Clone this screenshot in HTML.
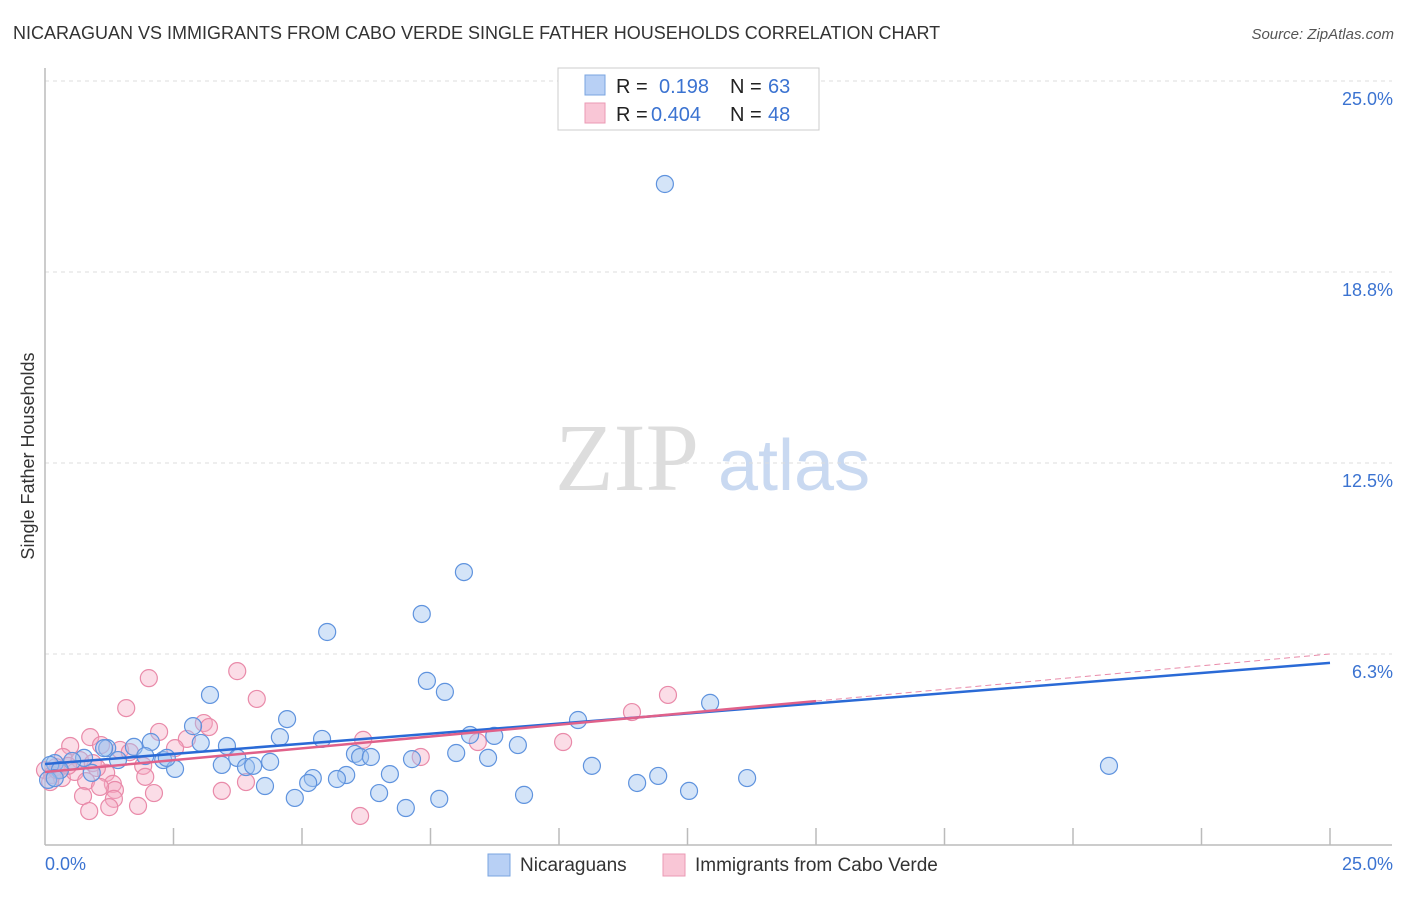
<!DOCTYPE html>
<html><head><meta charset="utf-8"><style>
body{margin:0;background:#fff;font-family:"Liberation Sans",sans-serif}
</style></head><body>
<svg id="chart" width="1406" height="892" xmlns="http://www.w3.org/2000/svg" font-family="Liberation Sans, sans-serif">
<text x="13" y="39" font-size="18" fill="#333">NICARAGUAN VS IMMIGRANTS FROM CABO VERDE SINGLE FATHER HOUSEHOLDS CORRELATION CHART</text>
<text x="1394" y="39" font-size="15" fill="#555" text-anchor="end" font-style="italic">Source: ZipAtlas.com</text>
<g>
<text x="555" y="490" font-size="96" font-family="Liberation Serif, serif" fill="#ddd">ZIP</text>
<text x="718" y="490" font-size="72" fill="#c9d9f1">atlas</text>
</g>
<g id="grid"></g><g id="axes"></g><g id="pts"></g><g id="trend"></g>
<text transform="translate(34,456) rotate(-90)" font-size="18" fill="#333" text-anchor="middle">Single Father Households</text>
<g>
<rect x="558" y="68" width="261" height="62" fill="#fff" stroke="#ccc"/>
<rect x="585" y="75" width="20" height="20" fill="#b8d0f5" stroke="#7aa4e0"/>
<rect x="585" y="103" width="20" height="20" fill="#f9c6d6" stroke="#eb9ab4"/>
<text x="616" y="93" font-size="20" fill="#222">R = </text><text x="659" y="93" font-size="20" fill="#3b73d1">0.198</text>
<text x="730" y="93" font-size="20" fill="#222">N = </text><text x="768" y="93" font-size="20" fill="#3b73d1">63</text>
<text x="616" y="121" font-size="20" fill="#222">R = </text><text x="651" y="121" font-size="20" fill="#3b73d1">0.404</text>
<text x="730" y="121" font-size="20" fill="#222">N = </text><text x="768" y="121" font-size="20" fill="#3b73d1">48</text>
</g>
<g>
<rect x="488" y="854" width="22" height="22" fill="#b8d0f5" stroke="#7aa4e0"/>
<text x="520" y="871" font-size="19" fill="#333">Nicaraguans</text>
<rect x="663" y="854" width="22" height="22" fill="#f9c6d6" stroke="#eb9ab4"/>
<text x="695" y="871" font-size="19" fill="#333">Immigrants from Cabo Verde</text>
</g>
</svg>
<script>
const yTicks=[6.25,12.5,18.75,25];
const yTickLabels=["6.3%","12.5%","18.8%","25.0%"];
const xTickLabels=["0.0%","25.0%"];
const blueX=[12.06,8.15,7.33,5.49,7.43,7.78,3.21,12.94,4.71,10.37,2.88,8.27,8.74,4.57,5.39,2.06,3.03,3.54,1.73,1.21,9.20,8.00,6.03,6.13,6.34,7.14,8.62,1.95,2.30,3.74,4.38,1.42,0.76,0.53,0.19,0.10,0.29,3.44,3.91,4.05,2.53,20.70,10.64,11.93,13.66,6.71,5.86,5.21,5.68,5.12,11.52,4.28,6.50,4.86,9.32,7.67,12.53,7.02,0.06,0.19,0.91,1.15,2.37];
const blueY=[21.63,8.93,7.56,6.97,5.37,5.01,4.91,4.65,4.12,4.09,3.89,3.60,3.57,3.53,3.47,3.37,3.34,3.24,3.21,3.17,3.27,3.01,2.98,2.88,2.88,2.81,2.85,2.91,2.78,2.85,2.72,2.78,2.85,2.75,2.68,2.62,2.45,2.62,2.55,2.59,2.49,2.59,2.59,2.26,2.19,2.32,2.29,2.19,2.16,2.03,2.03,1.93,1.70,1.54,1.64,1.51,1.77,1.21,2.13,2.19,2.36,3.17,2.85];
const pinkX=[3.74,2.02,12.12,4.12,1.58,11.42,3.09,3.19,2.22,0.88,2.76,1.09,2.53,6.19,8.42,10.08,1.46,0.49,0.35,0.68,0.21,0.93,1.91,7.31,0,0.14,0.33,0.58,1.19,1.95,0.80,1.32,3.91,0.10,3.44,2.12,1.36,1.07,0.74,1.34,1.81,1.25,0.86,6.13,0.23,0.45,1.01,1.65];
const pinkY=[5.69,5.46,4.91,4.78,4.48,4.35,3.99,3.86,3.70,3.53,3.47,3.27,3.17,3.44,3.37,3.37,3.11,3.24,2.88,2.78,2.55,2.68,2.59,2.88,2.45,2.29,2.19,2.39,2.36,2.23,2.09,2.00,2.06,2.06,1.77,1.70,1.80,1.90,1.60,1.51,1.28,1.24,1.11,0.95,2.45,2.59,2.52,3.04];
const blueTrendX=[0,25], blueTrendY=[2.65,5.96];
const pinkTrendX=[0,15], pinkTrendY=[2.39,4.71];
const pinkDashX=[15,25], pinkDashY=[4.71,6.25];
const NS="http://www.w3.org/2000/svg";
const xs=v=>45+v/25*1285, ys=v=>845-v*30.56;
function mk(tag,attrs,parent){const e=document.createElementNS(NS,tag);for(const k in attrs)e.setAttribute(k,attrs[k]);document.getElementById(parent).appendChild(e);return e;}
yTicks.forEach((t,i)=>{
 const g=mk('line',{x1:45,x2:1392,y1:ys(t),y2:ys(t),stroke:'#ddd','stroke-dasharray':'4,4'},'grid');
 
 
 const l=mk('text',{x:1393,y:ys(t)+24,'font-size':18,fill:'#3b73d1','text-anchor':'end'},'grid');
 l.textContent=yTickLabels[i];
 
 
});
const ax=mk('line',{x1:45,x2:1392,y1:845,y2:845,stroke:'#bbb','stroke-width':1.5},'axes');


const ay=mk('line',{x1:45,x2:45,y1:68,y2:845,stroke:'#bbb','stroke-width':1.5},'axes');


for(let i=1;i<=10;i++){const t=mk('line',{x1:xs(i*2.5),x2:xs(i*2.5),y1:828,y2:845,stroke:'#bbb','stroke-width':1.5},'axes');
 
 }
[0,25].forEach((v,i)=>{const t=mk('text',{x:i?1393:45,y:870,'font-size':18,fill:'#3b73d1','text-anchor':i?'end':'start'},'axes');
 t.textContent=xTickLabels[i];
 
 });
function pts(X,Y,fill,stroke,name){X.forEach((x,i)=>{const c=mk('circle',{cx:xs(x),cy:ys(Y[i]),r:8.5,fill:fill,stroke:stroke,'stroke-width':1.2},'pts');
 
 });}
pts(pinkX,pinkY,'rgba(246,170,196,0.4)','#e98aa9','cabo-verde-point');
pts(blueX,blueY,'rgba(160,195,240,0.45)','#5f93de','nicaraguan-point');
function line(X,Y,stroke,w,dash,name){const l=mk('line',{x1:xs(X[0]),y1:ys(Y[0]),x2:xs(X[1]),y2:ys(Y[1]),stroke:stroke,'stroke-width':w},'trend');if(dash)l.setAttribute('stroke-dasharray',dash);
 
 }
line(pinkDashX,pinkDashY,'#e98aa9',1,'6,4','cabo-verde-trend-extension');
line(blueTrendX,blueTrendY,'#2a6ad6',2.5,null,'nicaraguan-trendline');
line(pinkTrendX,pinkTrendY,'#e0618a',2.5,null,'cabo-verde-trendline');
</script>
</body></html>
